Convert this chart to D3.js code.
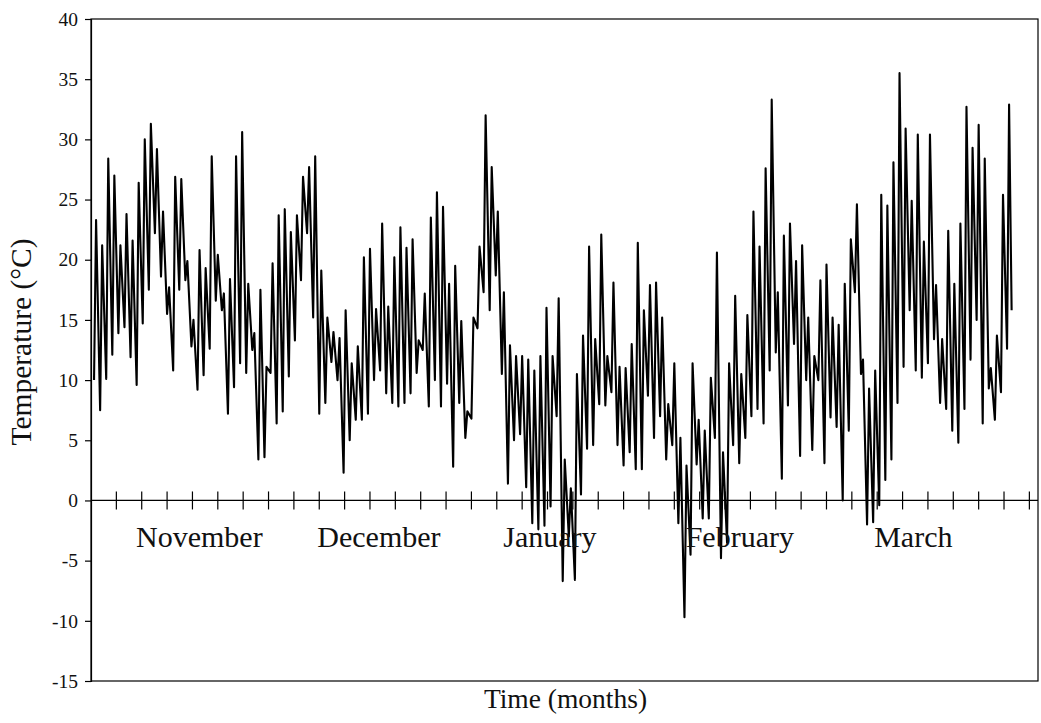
<!DOCTYPE html>
<html>
<head>
<meta charset="utf-8">
<script src="https://cdn.jsdelivr.net/npm/d3@7"></script>
<style>
  html, body { margin: 0; padding: 0; background: #fff; }
  svg text { font-family: "Liberation Serif", "Times New Roman", serif; fill: #111; }
</style>
</head>
<body>
<svg id="chart" width="1041" height="723"></svg>
<script>
// Daily low and high air temperature (°C), 1 November to 31 March.
const dailyLow = [
  10.0, 7.5, 10.1, 12.1, 13.9, 14.4, 11.9, 9.6, 14.7, 17.5,
  22.2, 18.6, 15.5, 10.8, 17.5, 18.3, 12.8, 9.2, 10.4, 12.6,
  16.6, 15.8, 7.2, 9.4, 11.4, 10.6, 12.5, 3.4, 3.6, 10.6,
  6.4, 7.4, 10.3, 13.3, 18.3, 22.2, 15.2, 7.2, 8.1, 11.5,
  10.0, 2.3, 5.0, 6.7, 6.7, 7.2, 10.0, 10.8, 8.9, 8.1,
  7.8, 8.1, 8.9, 10.6, 12.5, 7.8, 10.0, 7.8, 9.7, 2.8,
  8.1, 5.2, 6.8, 14.3, 17.3, 15.8, 18.7, 10.5, 1.4, 5.0,
  5.5, 1.1, -1.9, -2.4, -2.1, -0.5, 7.0, -6.7, -3.0, -6.6,
  0.5, 4.3, 4.6, 8.0, 7.9, 9.0, 4.6, 2.9, 4.0, 2.6,
  2.6, 8.7, 5.2, 7.0, 3.4, 4.6, -1.9, -9.7, -4.5, 3.0,
  -1.5, -1.5, 5.2, -4.8, -3.5, 4.6, 3.1, 5.2, 7.0, 7.6,
  6.4, 10.8, 12.3, 1.8, 7.9, 13.0, 3.7, 10.0, 4.2, 10.0,
  3.1, 6.9, 6.1, 0.0, 5.8, 17.3, 10.5, -2.0, -1.8, -0.4,
  1.7, 3.4, 8.1, 11.1, 15.8, 10.8, 10.2, 11.4, 13.4, 8.1,
  7.6, 5.8, 4.8, 7.6, 11.7, 15.0, 6.4, 9.3, 6.7, 9.0,
  12.6
];
const dailyHigh = [
  23.3, 21.2, 28.4, 27.0, 21.2, 23.8, 21.6, 26.4, 30.0, 31.3,
  29.2, 24.0, 17.7, 26.9, 26.7, 19.9, 15.0, 20.8, 19.3, 28.6,
  20.4, 17.2, 18.4, 28.6, 30.6, 18.0, 13.9, 17.5, 11.1, 19.7,
  23.7, 24.2, 22.3, 23.7, 26.9, 27.7, 28.6, 19.1, 15.2, 14.0,
  13.5, 15.8, 11.4, 12.8, 20.2, 20.9, 15.9, 23.0, 16.1, 20.2,
  22.7, 21.0, 21.7, 13.3, 17.2, 23.5, 25.6, 24.4, 18.0, 19.5,
  14.9, 7.4, 15.2, 21.1, 32.0, 27.7, 24.0, 17.3, 12.9, 12.0,
  12.0, 11.7, 10.8, 12.0, 16.0, 12.0, 16.8, 3.4, 1.0, 10.5,
  13.7, 21.1, 13.4, 22.1, 12.0, 18.1, 11.1, 11.0, 13.0, 21.4,
  15.8, 17.9, 18.1, 15.2, 8.0, 11.4, 5.2, 2.9, 11.4, 6.7,
  5.8, 10.2, 20.6, 4.0, 11.4, 17.0, 10.5, 15.4, 24.0, 21.1,
  27.6, 33.3, 17.3, 22.0, 23.0, 19.9, 21.2, 15.2, 12.0, 18.3,
  19.6, 15.2, 14.6, 18.0, 21.7, 24.6, 11.7, 9.3, 10.8, 25.4,
  24.5, 28.1, 35.5, 30.9, 24.9, 30.4, 21.5, 30.4, 17.9, 13.4,
  22.4, 18.0, 23.0, 32.7, 29.3, 31.2, 28.4, 11.0, 13.7, 25.4,
  32.9
];
const finalReading = 15.8;

const months = ["November", "December", "January", "February", "March"];
const monthLabelDay = [17.8, 47.3, 75.4, 106.6, 135.1];   // day of series under each label centre
const yTickValues = [-15, -10, -5, 0, 5, 10, 15, 20, 25, 30, 35, 40];

const HOURS_ON_AXIS = 3734;   // hourly categories spanned by the time axis
const TICK_EVERY_HOURS = 100;
const LOW_HOUR = 12, HIGH_HOUR = 20, FINAL_HOUR = 6;

const plot = { left: 91, right: 1038, top: 19, bottom: 681 };
const serif = "'Liberation Serif', 'Times New Roman', serif";

const x = d3.scaleLinear().domain([0, HOURS_ON_AXIS]).range([plot.left, plot.right]);
const y = d3.scaleLinear().domain([-15, 40]).range([plot.bottom, plot.top]);

const svg = d3.select("#chart");
svg.append("rect").attr("width", 1041).attr("height", 723).attr("fill", "#fff");

// Build the reading sequence: low then high for each day
const readings = [];
dailyLow.forEach((lo, d) => {
  readings.push({ hour: d * 24 + LOW_HOUR, temp: lo });
  readings.push({ hour: d * 24 + HIGH_HOUR, temp: dailyHigh[d] });
});
readings.push({ hour: dailyLow.length * 24 + FINAL_HOUR, temp: finalReading });

// Plot frame
svg.append("rect")
  .attr("x", plot.left).attr("y", plot.top)
  .attr("width", plot.right - plot.left).attr("height", plot.bottom - plot.top)
  .attr("fill", "none").attr("stroke", "#000").attr("stroke-width", 1.2);

// Temperature trace
svg.append("path")
  .datum(readings)
  .attr("fill", "none")
  .attr("stroke", "#000")
  .attr("stroke-width", 2.1)
  .attr("stroke-linejoin", "round")
  .attr("d", d3.line().x(r => x(r.hour)).y(r => y(r.temp)));

// Y axis (plain hyphen for negative labels)
const yAxis = svg.append("g")
  .attr("transform", `translate(${plot.left},0)`)
  .call(d3.axisLeft(y).tickValues(yTickValues).tickSize(6).tickPadding(7).tickFormat(v => String(v)));
yAxis.select(".domain").attr("stroke", "#000").attr("stroke-width", 1.2);
yAxis.selectAll(".tick line").attr("stroke", "#000").attr("stroke-width", 1.2);
yAxis.selectAll(".tick text")
  .attr("font-family", serif)
  .attr("font-size", 19.5).attr("fill", "#111");

// Zero line with tick marks crossing it
const y0 = y(0);
svg.append("line")
  .attr("x1", plot.left).attr("x2", plot.right)
  .attr("y1", y0).attr("y2", y0)
  .attr("stroke", "#000").attr("stroke-width", 1.2);
const timeTicks = d3.range(TICK_EVERY_HOURS, HOURS_ON_AXIS, TICK_EVERY_HOURS);
svg.append("g").selectAll("line")
  .data(timeTicks)
  .join("line")
  .attr("x1", h => x(h)).attr("x2", h => x(h))
  .attr("y1", y0 - 9).attr("y2", y0 + 9)
  .attr("stroke", "#000").attr("stroke-width", 1.2);

// Month names
svg.append("g").selectAll("text")
  .data(months)
  .join("text")
  .attr("x", (m, i) => x(monthLabelDay[i] * 24))
  .attr("y", 547)
  .attr("text-anchor", "middle")
  .attr("font-size", 30)
  .text(m => m);

// Axis titles
svg.append("text")
  .attr("x", (plot.left + plot.right) / 2 + 1)
  .attr("y", 708)
  .attr("text-anchor", "middle")
  .attr("font-size", 27.5)
  .text("Time (months)");

svg.append("text")
  .attr("transform", `translate(31, ${(plot.top + plot.bottom) / 2 - 8}) rotate(-90)`)
  .attr("text-anchor", "middle")
  .attr("font-size", 29.5)
  .text("Temperature (°C)");
</script>
</body>
</html>
